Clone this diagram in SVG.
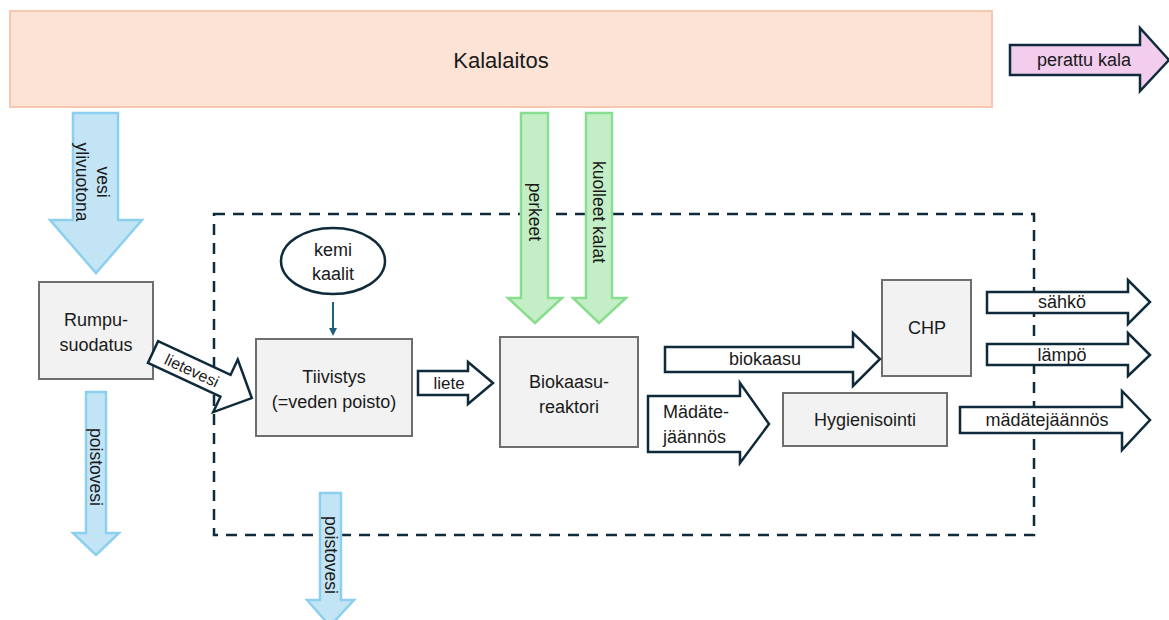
<svg xmlns="http://www.w3.org/2000/svg" width="1169" height="620" viewBox="0 0 1169 620">
<style>
text{font-family:"Liberation Sans",Arial,sans-serif;font-size:18px;fill:#1a1a1a}
.box{fill:#f2f2f2;stroke:#6e6e6e;stroke-width:2}
.dark{fill:#ffffff;stroke:#0f2b3b;stroke-width:2.5;stroke-linejoin:miter}
.blue{fill:#c3e4f5;stroke:#8ccfee;stroke-width:2.5}
.green{fill:#c4efc6;stroke:#88dd8e;stroke-width:2.5}
.c{text-anchor:middle}
.r{font-size:17.5px}
</style>
<defs>
<marker id="ah" markerWidth="8" markerHeight="8" refX="6" refY="4" orient="auto" markerUnits="userSpaceOnUse">
<path d="M0,0 L8,4 L0,8 Z" fill="#1f5f80"/>
</marker>
</defs>

<g id="kalalaitos">
<rect x="10" y="11" width="982" height="96" fill="#fce3d6" stroke="#f8c7af" stroke-width="2"/>
<text x="501" y="68" class="c" style="font-size:22px">Kalalaitos</text>
</g>

<g id="boundary">
<rect x="214" y="214" width="820" height="321" fill="none" stroke="#0f2b3b" stroke-width="2.5" stroke-dasharray="11,8"/>
</g>

<g id="rumpusuodatus">
<rect class="box" x="39" y="282" width="114" height="97"/>
<text x="96" y="326" class="c">Rumpu-</text>
<text x="96" y="351" class="c">suodatus</text>
</g>

<g id="kemikaalit">
<ellipse cx="333" cy="261" rx="52" ry="33" fill="#ffffff" stroke="#0f2b3b" stroke-width="2.5"/>
<text x="333" y="256" class="c">kemi</text>
<text x="333" y="280" class="c">kaalit</text>
</g>

<g id="tiivistys">
<rect class="box" x="256" y="339" width="156" height="97"/>
<text x="334" y="383" class="c">Tiivistys</text>
<text x="334" y="408" class="c">(=veden poisto)</text>
</g>

<g id="biokaasureaktori">
<rect class="box" x="500" y="337" width="138" height="110"/>
<text x="569" y="388" class="c">Biokaasu-</text>
<text x="569" y="413" class="c">reaktori</text>
</g>

<g id="chp">
<rect class="box" x="882" y="280" width="89" height="96"/>
<text x="927" y="334" class="c">CHP</text>
</g>

<g id="hygienisointi">
<rect class="box" x="783" y="393" width="164" height="53"/>
<text x="865" y="426" class="c">Hygienisointi</text>
</g>

<g id="connectors">
<!-- perattu kala -->
<path d="M1010,45 H1140 V28 L1169,60 L1140,91 V75 H1010 Z" fill="#f2cdee" stroke="#0f2b3b" stroke-width="2.5"/>
<text x="1084" y="66" class="c">perattu kala</text>

<!-- vesi ylivuotona -->
<path class="blue" d="M73,113 H118 V220 H142 L96,273 L50,220 H73 Z"/>
<g transform="translate(92,182) rotate(90)">
<text x="0" y="-5" class="c r">vesi</text>
<text x="0" y="16" class="c r">ylivuotona</text>
</g>

<!-- poistovesi left -->
<path class="blue" d="M86,392 H106 V533 H119 L96,555 L73,533 H86 Z"/>
<text transform="translate(90,467) rotate(90)" x="0" y="0" class="c r">poistovesi</text>

<!-- poistovesi middle -->
<path class="blue" d="M320,493 H341 V600 H354 L330,626 L307,600 H320 Z"/>
<text transform="translate(325,555) rotate(90)" x="0" y="0" class="c r">poistovesi</text>

<!-- perkeet -->
<path class="green" d="M521,113 H548 V298 H562 L535,323 L508,298 H521 Z"/>
<text transform="translate(529,212) rotate(90)" x="0" y="0" class="c r">perkeet</text>

<!-- kuolleet kalat -->
<path class="green" d="M586,113 H612 V298 H626 L599,323 L573,298 H586 Z"/>
<text transform="translate(593,212) rotate(90)" x="0" y="0" class="c r">kuolleet kalat</text>

<!-- kemikaalit arrow -->
<line x1="333" y1="302" x2="333" y2="334" stroke="#1f5f80" stroke-width="2" marker-end="url(#ah)"/>

<!-- lietevesi -->
<g transform="translate(153,352) rotate(25)">
<path class="dark" d="M0,-12 H80 V-29 L109,0 L80,29 V12 H0 Z"/>
<text x="43" y="6" class="c" style="font-size:16px">lietevesi</text>
</g>

<!-- liete -->
<path class="dark" d="M418,371 H468 V362 L493,383 L468,404 V395 H418 Z"/>
<text x="449" y="389" class="c" style="font-size:17px">liete</text>

<!-- biokaasu -->
<path class="dark" d="M665,347 H853 V333 L880,359 L853,386 V372 H665 Z"/>
<text x="765" y="365" class="c">biokaasu</text>

<!-- Mädätejäännös -->
<path class="dark" d="M648,396 H740 V383 L769,424 L740,463 V452 H648 Z"/>
<text x="663" y="418">Mädäte-</text>
<text x="663" y="443">jäännös</text>

<!-- sähkö -->
<path class="dark" d="M987,292 H1128 V280 L1150,302 L1128,324 V313 H987 Z"/>
<text x="1062" y="308" class="c">sähkö</text>

<!-- lämpö -->
<path class="dark" d="M987,344 H1128 V333 L1150,355 L1128,376 V365 H987 Z"/>
<text x="1062" y="361" class="c">lämpö</text>

<!-- mädätejäännös out -->
<path class="dark" d="M960,407 H1122 V391 L1150,420 L1122,450 V433 H960 Z"/>
<text x="1047" y="426" class="c">mädätejäännös</text>
</g>
</svg>
